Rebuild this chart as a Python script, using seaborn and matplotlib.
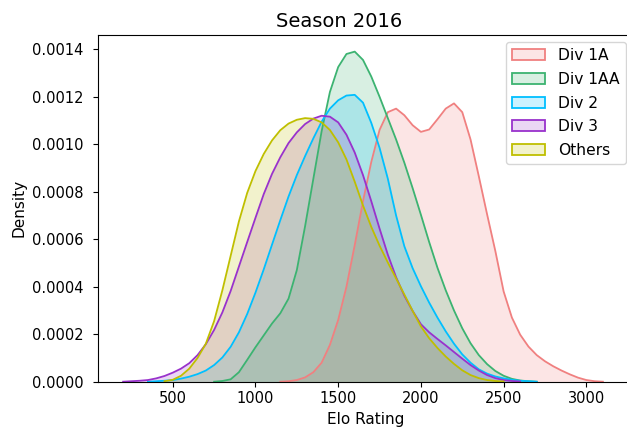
import numpy as np
import pandas as pd
import matplotlib
matplotlib.use("Agg")
import matplotlib.pyplot as plt
from matplotlib.patches import Patch
from matplotlib.colors import to_rgba
import seaborn as sns

# ---- data (density curves, in units of 1e-4) ----
DENSITY_UNIT = 1e-4
STEP = 50

divisions = ["Div 1A", "Div 1AA", "Div 2", "Div 3", "Others"]
colors = ["lightcoral", "mediumseagreen", "deepskyblue", "darkorchid", "y"]

div1a_start = 1150
div1a_density = [0.0, 0.02, 0.07, 0.18, 0.4, 0.8, 1.55, 2.6, 4.0, 5.75, 7.6, 9.25,
                 10.6, 11.35, 11.5, 11.22, 10.8, 10.52, 10.62, 11.05, 11.5, 11.72,
                 11.35, 10.2, 8.65, 7.05, 5.5, 3.8, 2.7, 1.98, 1.48, 1.12, 0.86,
                 0.65, 0.47, 0.31, 0.17, 0.07, 0.02, 0.0]

div1aa_start = 750
div1aa_density = [0.0, 0.03, 0.1, 0.4, 0.92, 1.45, 1.95, 2.45, 2.88, 3.5, 4.7,
                  6.55, 8.55, 10.55, 12.2, 13.25, 13.8, 13.9, 13.55, 12.85, 12.0,
                  11.1, 10.2, 9.22, 8.15, 7.03, 5.88, 4.8, 3.85, 3.0, 2.25,
                  1.62, 1.12, 0.74, 0.45, 0.25, 0.12, 0.05, 0.02, 0.0]

div2_start = 350
div2_density = [0.0, 0.02, 0.04, 0.07, 0.13, 0.21, 0.32, 0.47, 0.7, 1.02, 1.47,
                2.08, 2.85, 3.75, 4.73, 5.77, 6.8, 7.8, 8.7, 9.5, 10.25, 10.95,
                11.5, 11.85, 12.05, 12.08, 11.75, 10.9, 9.85, 8.55, 7.0, 5.7,
                4.78, 4.02, 3.33, 2.7, 2.12, 1.6, 1.15, 0.8, 0.52, 0.34, 0.22,
                0.14, 0.08, 0.04, 0.02, 0.0]

div3_start = 200
div3_density = [0.0, 0.02, 0.04, 0.07, 0.14, 0.24, 0.38, 0.55, 0.78, 1.12, 1.58,
                2.18, 2.92, 3.82, 4.85, 5.88, 6.9, 7.9, 8.75, 9.45, 10.05, 10.5,
                10.85, 11.08, 11.2, 11.16, 10.92, 10.4, 9.65, 8.7, 7.6, 6.45,
                5.35, 4.4, 3.62, 2.98, 2.42, 2.08, 1.8, 1.53, 1.25, 0.97, 0.7,
                0.47, 0.28, 0.15, 0.07, 0.03, 0.01]

others_start = 450
others_density = [0.02, 0.08, 0.25, 0.55, 1.0, 1.6, 2.55, 3.85, 5.3, 6.75, 7.95,
                  8.87, 9.59, 10.16, 10.59, 10.87, 11.03, 11.1, 11.07, 10.92,
                  10.6, 10.08, 9.36, 8.42, 7.42, 6.52, 5.73, 5.02, 4.35, 3.67,
                  2.98, 2.33, 1.83, 1.42, 1.06, 0.75, 0.48, 0.28, 0.15, 0.07,
                  0.03, 0.01]

starts = [div1a_start, div1aa_start, div2_start, div3_start, others_start]
densities = [div1a_density, div1aa_density, div2_density, div3_density, others_density]

frames = []
for name, start, dens in zip(divisions, starts, densities):
    dens = np.asarray(dens) * DENSITY_UNIT
    elo = start + STEP * np.arange(len(dens))
    frames.append(pd.DataFrame({"Elo Rating": elo, "Density": dens, "Division": name}))
df = pd.concat(frames, ignore_index=True)

# ---- plot ----
W, H = 627, 429
fig = plt.figure(figsize=(W / 100, H / 100), dpi=100)
ax_left, ax_right, ax_top, ax_bottom = 98.3, 633.0, 35.0, 381.7   # pixels
ax = fig.add_axes([ax_left / W, (H - ax_bottom) / H,
                   (ax_right - ax_left) / W, (ax_bottom - ax_top) / H])

FILL_ALPHA = 0.2
for name, color in zip(divisions, colors):
    sub = df[df["Division"] == name]
    sns.lineplot(data=sub, x="Elo Rating", y="Density", color=color,
                 linewidth=1.3, ax=ax, legend=False)
    ax.fill_between(sub["Elo Rating"], 0, sub["Density"], color=color,
                    alpha=FILL_ALPHA, linewidth=0)

ax.set_xlim(50, 3282)
ax.set_ylim(0, 0.00146)
title = ax.set_title("Season 2016", fontsize=14)
title.set_x((339 - ax_left) / (ax_right - ax_left))
ax.set_xlabel("Elo Rating", fontsize=11)
ax.set_ylabel("Density", fontsize=11)
ax.tick_params(labelsize=10.5)
ax.tick_params(axis="y", pad=7)

handles = [Patch(facecolor=to_rgba(c, FILL_ALPHA), edgecolor=c, linewidth=1.3)
           for c in colors]
ax.legend(handles, divisions, loc="upper right", fontsize=11.2,
          labelspacing=0.56, handlelength=2.1, handletextpad=0.85,
          borderaxespad=0.45)

fig.savefig("out.png", dpi=100)
